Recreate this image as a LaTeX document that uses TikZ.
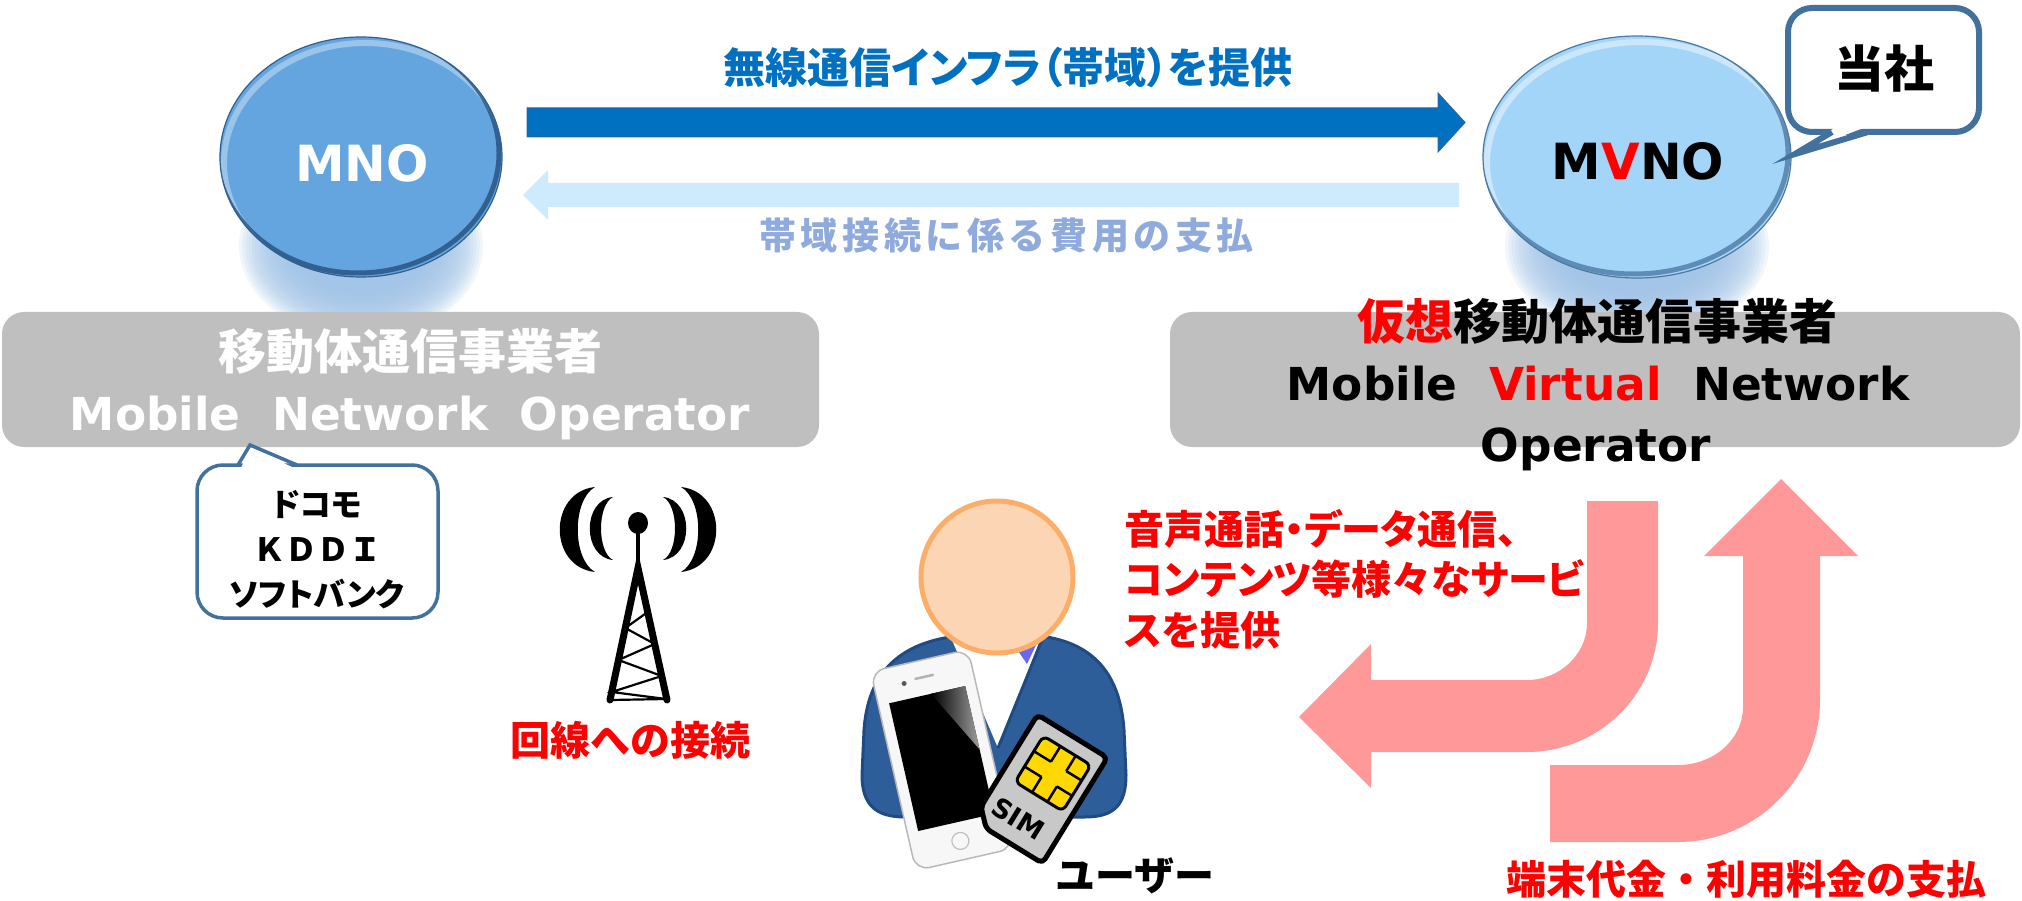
\documentclass[tikz,border=0pt]{standalone}
\usepackage{fontspec}
\setmainfont{Noto Sans}
\IfFontExistsTF{NotoSans-Bold.ttf}
  {\newfontfamily\latb{NotoSans-Bold.ttf}}
  {\IfFontExistsTF{Noto Sans Bold}
    {\newfontfamily\latb{Noto Sans Bold}}
    {\newfontfamily\latb{DejaVu Sans Bold}[Scale=0.89]}}
\newfontfamily\jp{Noto Sans CJK JP}
\newfontfamily\jpp{Noto Sans CJK JP}[RawFeature=+palt]
\usetikzlibrary{shapes.geometric,calc}

\definecolor{infrablue}{HTML}{0070C0}
\definecolor{infraedge}{HTML}{2E64A0}
\definecolor{payblue}{HTML}{CDEBFC}
\definecolor{paytext}{HTML}{8FAADC}
\definecolor{mnofill}{HTML}{64A5E0}
\definecolor{mnoedge}{HTML}{2F5F8F}
\definecolor{mnodark}{HTML}{1D4470}
\definecolor{mvnofill}{HTML}{A3D5F9}
\definecolor{mvnoedge}{HTML}{4A78A2}
\definecolor{mvnodark}{HTML}{3A6690}
\definecolor{glowblue}{HTML}{A2C5E8}
\definecolor{boxgray}{HTML}{BFBFBF}
\definecolor{calloutedge}{HTML}{41719C}
\definecolor{flowpink}{HTML}{FF9999}
\definecolor{alertred}{HTML}{FF0000}
\definecolor{skin}{HTML}{FCD5B4}
\definecolor{skinedge}{HTML}{FCAE68}
\definecolor{jacket}{HTML}{2E5E9A}
\definecolor{jacketedge}{HTML}{1F4A82}
\definecolor{tiecol}{HTML}{6868F0}
\definecolor{simgray}{HTML}{C8C8C8}
\definecolor{chipyellow}{HTML}{FFD800}

% letter-spaced run of characters
\def\spaced#1{\ifx#1\relax\else#1\kern4.6pt\expandafter\spaced\fi}

% soft glow built from stacked translucent ellipses
\newcommand\softglow[3]{%
  \foreach \k in {0,...,19}{%
    \fill[glowblue, opacity=0.14]
      (#1,246) ellipse ({#2-\k*#3} and {92-\k*2.6});
  }}

\tikzset{
  lbl/.style={inner sep=0pt, anchor=base},
  jpbold/.style={font={\jp\bfseries\fontsize{#1}{#1}\selectfont}},
  jppbold/.style={font={\jpp\bfseries\fontsize{#1}{#1}\selectfont}},
  latbold/.style={font={\latb\fontsize{#1}{#1}\selectfont}},
  panel/.style={fill=boxgray, rounded corners=22pt, inner sep=0pt, draw=none},
  flow/.style={fill=flowpink, draw=none},
}

\begin{document}
\begin{tikzpicture}[x=1pt,y=-1pt]
\useasboundingbox (0,0) rectangle (2022,901);
\fill[white] (0,0) rectangle (2022,901);

% soft halos under the two operators
\softglow{361}{122}{3.2}
\softglow{1637}{132}{3.4}

% grey caption panels
\node[panel, minimum width=817pt, minimum height=135pt] (mnobox) at (410.5,379.5) {};
\node[panel, minimum width=850pt, minimum height=135pt] (mvnobox) at (1595,379.5) {};

% MNO disc
\node[ellipse, minimum width=282pt, minimum height=240pt, inner sep=0pt] (mno) at (361,157) {};
\begin{scope}
  \clip (mno.center) ellipse (141 and 120);
  \fill[mnofill] (mno.center) ellipse (141 and 120);
  \draw[white, opacity=.35, line width=6pt] ($(mno.center)+(4,6)$) ellipse (141 and 120);
  \draw[mnodark, opacity=.7, line width=5pt] ($(mno.center)+(-3,-4)$) ellipse (141 and 120);
\end{scope}
\draw[mnoedge, line width=1.2pt] (mno.center) ellipse (141 and 120);
\node[lbl, latbold=56, text=white] (mnotxt) at (362,182) {MNO};

% MVNO disc
\node[ellipse, minimum width=308pt, minimum height=242pt, inner sep=0pt] (mvno) at (1637,157) {};
\begin{scope}
  \clip (mvno.center) ellipse (154 and 121);
  \fill[mvnofill] (mvno.center) ellipse (154 and 121);
  \draw[white, opacity=.45, line width=6pt] ($(mvno.center)+(4,6)$) ellipse (154 and 121);
  \draw[mvnodark, opacity=.65, line width=5pt] ($(mvno.center)+(-3,-4)$) ellipse (154 and 121);
\end{scope}
\draw[mvnoedge, line width=1.2pt] (mvno.center) ellipse (154 and 121);
\node[lbl, latbold=56] (mvnotxt) at (1638,180) {M\textcolor{alertred}{V}NO};

% infrastructure arrow (MNO -> MVNO) and payment arrow (MVNO -> MNO)
\filldraw[fill=infrablue, draw=infraedge, line width=1pt, line join=miter]
  (527,108) -- (1438,108) -- (1438,93) -- (1465,122.5) -- (1438,152) -- (1438,137) -- (527,137) -- cycle;
\fill[payblue]
  (1459,183) -- (548,183) -- (548,170) -- (523,195) -- (548,220) -- (548,207) -- (1459,207) -- cycle;
\node[lbl, jppbold=42, text=infrablue] (infralbl) at (1008,84) {無線通信インフラ（帯域）を提供};
\node[lbl, jpbold=37, text=paytext] (paylbl) at (1009,250) {\spaced 帯域接続に係る費用の支払\relax};

% panel captions
\node[lbl, jpbold=48, text=white] (mnojp) at (410,370) {移動体通信事業者};
\node[lbl, latbold=51, text=white] (mnoen) at (410,430) {Mobile\ \ Network\ \ Operator};
\node[lbl, jpbold=48] (mvnojp) at (1597,340) {\textcolor{alertred}{仮想}移動体通信事業者};
\node[lbl, latbold=51] (mvnoen) at (1598,400) {Mobile\ \ \textcolor{alertred}{Virtual}\ \ Network};
\node[lbl, latbold=51] (mvnoen2) at (1596,461) {Operator};

% callout: 当社
\filldraw[fill=white, draw=calloutedge, line width=6pt, rounded corners=24pt] (1788,8) rectangle (1979,132);
\fill[white] (1836,127) -- (1866,127) -- (1795,154) -- cycle;
\draw[calloutedge, line width=6pt, line join=miter] (1832,132) -- (1795,154) -- (1868,132);
\node[lbl, jpbold=50] (tosha) at (1884,88) {当社};

% callout: carriers
\filldraw[fill=white, draw=calloutedge, line width=3.5pt, rounded corners=26pt] (197,465) rectangle (438,618);
\fill[white] (241,468) -- (250,447) -- (294,468) -- cycle;
\draw[calloutedge, line width=3.5pt, line join=miter] (238,465) -- (250,445) -- (297,465);
\node[lbl, jppbold=32] (docomo) at (317,516) {ドコモ};
\node[lbl, jpbold=32] (kddi) at (317,561) {ＫＤＤＩ};
\node[lbl, jppbold=32] (softbank) at (317,606) {ソフトバンク};

% radio tower
\fill (595,487) .. controls (548,492) and (548,567) .. (595,572) .. controls (572,559) and (572,500) .. (595,487) -- cycle;
\fill (613,497) .. controls (582,500) and (582,557) .. (613,560) .. controls (597,552) and (597,505) .. (613,497) -- cycle;
\fill (681,487) .. controls (728,492) and (728,567) .. (681,572) .. controls (704,559) and (704,500) .. (681,487) -- cycle;
\fill (663,497) .. controls (694,500) and (694,557) .. (663,560) .. controls (679,552) and (679,505) .. (663,497) -- cycle;
\fill (638,523) ellipse (10 and 11);
\draw[line width=4pt] (638,523) -- (638,570);
\draw[line width=7pt, line cap=round] (610,700) -- (638,568) -- (667,700);
\draw[line width=2.2pt]
  (647.7,612) -- (625.3,628) -- (654.7,644) -- (618.5,660) -- (661.7,676) -- (611.7,692) -- (666,699) -- (611,700);
\node[lbl, jpbold=40, text=alertred] (linklbl) at (630,755) {回線への接続};

% user figure
\filldraw[fill=jacket, draw=jacketedge, line width=3pt]
  (950,637) .. controls (900,645) and (868,672) .. (864,730)
  -- (862,775) .. controls (862,805) and (876,817) .. (905,817)
  -- (1085,817) .. controls (1114,817) and (1126,805) .. (1126,775)
  -- (1124,730) .. controls (1120,672) and (1092,645) .. (1047,637) -- cycle;
\fill[white] (952,640) -- (1040,640) -- (998,748) -- cycle;
\fill[tiecol] (1014,645) -- (1036,645) -- (1027,664) -- cycle;
\draw[jacketedge, line width=3pt] (1042,640) -- (998,748);
\filldraw[fill=skin, draw=skinedge, line width=5pt] (997,577) circle (76);

% smartphone
\begin{scope}[shift={(942,760)}, rotate=12.8]
  \filldraw[fill=gray!6, draw=gray!55, line width=1.5pt, rounded corners=14pt] (-50,-102) rectangle (50,102);
  \fill[black] (-39,-67) rectangle (39,64);
  \shade[left color=black, right color=gray!75] (4,-67) -- (39,-67) -- (39,-2) -- cycle;
  \fill[gray!70!black] (-20,-83) circle (2.5);
  \draw[gray!60, line width=2.5pt, line cap=round] (-8,-85) -- (10,-85);
  \draw[gray!50, line width=1.2pt] (0,83) circle (8.5);
\end{scope}

% SIM card
\begin{scope}[shift={(1040,789)}, rotate=-31.6]
  \filldraw[fill=simgray, draw=black, line width=5pt, line join=round, rounded corners=5pt]
    (-41,-62) -- (41,-62) -- (41,62) -- (-25,62) -- (-41,46) -- cycle;
  \filldraw[fill=chipyellow, draw=black, line width=3pt, rounded corners=6pt] (-25,-47) rectangle (31,7);
  \draw[black, line width=2.5pt]
    (-25,-29) -- (-5,-29) (-25,-11) -- (-5,-11) (13,-29) -- (31,-29) (13,-11) -- (31,-11)
    (-5,-47) -- (-5,-29) (13,-47) -- (13,-29) (-5,-11) -- (-5,7) (13,-11) -- (13,7);
  \node[latbold=30, rotate=-31.6, inner sep=0pt] (simlbl) at (-3,37) {SIM};
\end{scope}
\node[lbl, jpbold=40] (userlbl) at (1135,890) {ユーザー};

% service / payment flows
\path[flow] (1587,501) -- (1658,501) -- (1658,623)
  .. controls (1658,694) and (1599,752) .. (1527,752)
  -- (1371,752) -- (1371,788) -- (1299,717) -- (1371,644) -- (1371,680) -- (1527,680)
  .. controls (1560,680) and (1587,654) .. (1587,623) -- cycle;
\path[flow] (1550,765) -- (1678,765)
  .. controls (1714,765) and (1743,739) .. (1743,707)
  -- (1743,556) -- (1704,556) -- (1781,479) -- (1858,556) -- (1820,556) -- (1820,700)
  .. controls (1820,778) and (1756,842) .. (1678,842) -- (1550,842) -- cycle;

\node[lbl, jppbold=40, text=alertred, anchor=base west] (svc1) at (1124,544) {音声通話・データ通信、};
\node[lbl, jppbold=40, text=alertred, anchor=base west] (svc2) at (1124,594) {コンテンツ等様々なサービ};
\node[lbl, jppbold=40, text=alertred, anchor=base west] (svc3) at (1124,645) {スを提供};
\node[lbl, jpbold=40, text=alertred] (feelbl) at (1746,894) {端末代金・利用料金の支払};
\end{tikzpicture}
\end{document}
